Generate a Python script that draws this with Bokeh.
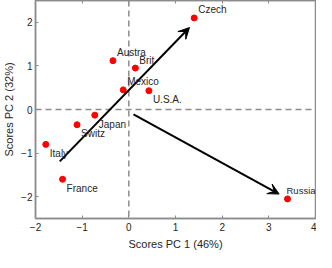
from bokeh.plotting import figure
from bokeh.models import ColumnDataSource, LinearAxis, Span, Arrow, VeeHead, Range1d, FixedTicker, Label
from bokeh.embed import file_html
from bokeh.resources import INLINE

countries = ["Czech", "Austra", "Brit", "Mexico", "U.S.A.", "Japan", "Switz", "Italy", "France", "Russia"]
pc1 = [1.40, -0.34, 0.14, -0.12, 0.43, -0.73, -1.11, -1.78, -1.42, 3.40]
pc2 = [2.10, 1.12, 0.95, 0.45, 0.43, -0.13, -0.35, -0.80, -1.60, -2.05]
label_side = ["above", "above", "above", "above", "below", "below", "below", "below", "below", "above"]

arrow_start_x = [-1.48, 0.10]
arrow_start_y = [-1.19, -0.11]
arrow_end_x = [1.30, 3.22]
arrow_end_y = [1.88, -1.94]

x_ticks = [-2, -1, 0, 1, 2, 3, 4]
y_ticks = [-2, -1, 0, 1, 2]

FONT = "Liberation Sans"
AXC = "#8c8c8c"
TXT = "#262626"

p = figure(width=316, height=252, output_backend="svg", toolbar_location=None,
           x_range=Range1d(-2, 4), y_range=Range1d(-2.5, 2.5),
           min_border_left=0, min_border_right=1, min_border_top=0, min_border_bottom=0)
p.xgrid.visible = False
p.ygrid.visible = False
p.outline_line_color = AXC
p.outline_line_width = 1.5
p.background_fill_color = "white"
p.border_fill_color = "white"

def style_axis(ax, show_labels=True):
    ax.axis_line_color = AXC
    ax.axis_line_width = 1.5
    ax.major_tick_in = 3
    ax.major_tick_out = 0
    ax.major_tick_line_color = AXC
    ax.minor_tick_line_color = None
    ax.major_label_text_font = FONT
    ax.major_label_text_color = TXT
    ax.major_label_text_font_size = "10px" if show_labels else "0px"
    ax.major_label_standoff = 4 if show_labels else 0
    ax.axis_label_text_font = FONT
    ax.axis_label_text_font_style = "normal"
    ax.axis_label_text_color = TXT
    ax.axis_label_text_font_size = "11px"

p.xaxis.ticker = FixedTicker(ticks=x_ticks)
p.yaxis.ticker = FixedTicker(ticks=y_ticks)
p.xaxis.axis_label = "Scores PC 1 (46%)"
p.yaxis.axis_label = "Scores PC 2 (32%)"
p.xaxis.axis_label_standoff = 4
p.yaxis.axis_label_standoff = 3
style_axis(p.xaxis[0])
style_axis(p.yaxis[0])
p.yaxis.major_label_standoff = 3

top = LinearAxis(ticker=FixedTicker(ticks=x_ticks))
style_axis(top, False)
top.major_label_text_alpha = 0
p.add_layout(top, "above")

p.add_layout(Span(location=0, dimension="height", line_color="#8c8c8c", line_dash="6 4", line_width=1.5))
p.add_layout(Span(location=0, dimension="width", line_color="#8c8c8c", line_dash="6 4", line_width=1.5))

for sx, sy, ex, ey in zip(arrow_start_x, arrow_start_y, arrow_end_x, arrow_end_y):
    p.add_layout(Arrow(x_start=sx, y_start=sy, x_end=ex, y_end=ey,
                       line_color="black", line_width=2,
                       end=VeeHead(size=11, fill_color="black", line_color="black", line_width=1)))

src = ColumnDataSource(dict(x=pc1, y=pc2, name=countries))
p.scatter("x", "y", source=src, size=6, color="#ff0000", line_color="#ff0000")
for cx, cy, name, side in zip(pc1, pc2, countries, label_side):
    last = name == countries[-1]
    p.add_layout(Label(x=cx, y=cy, text=name, x_offset=(-1 if last else 4),
                       y_offset=(8 if side == "above" else -9),
                       text_font=FONT, text_font_size=("9.5px" if last else "10px"), text_color=TXT,
                       text_baseline="middle", text_align="left", level="overlay"))

open("out.html", "w").write(file_html(p, INLINE))
